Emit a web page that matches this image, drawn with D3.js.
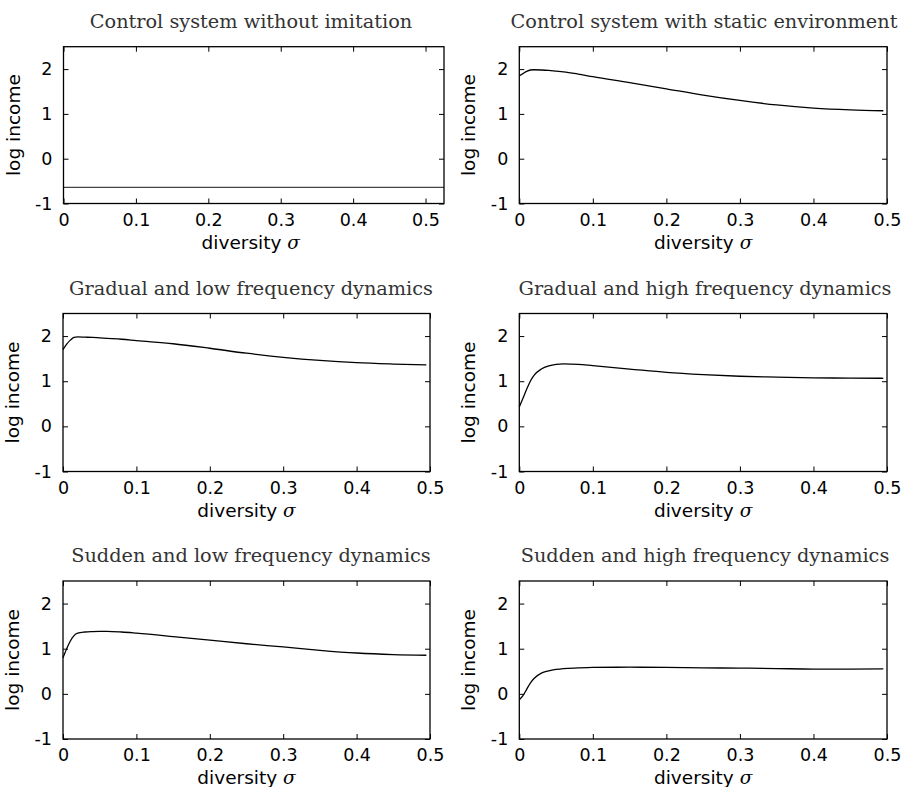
<!DOCTYPE html>
<html><head><meta charset="utf-8">
<script src="https://cdn.jsdelivr.net/npm/d3@7"></script>
<style>
html,body{margin:0;padding:0;background:#fff;}
svg{display:block;}
.tick text{font-family:"DejaVu Sans",sans-serif;}
</style></head>
<body>
<svg id="chart" width="902" height="787"></svg>
<script>
// ---- data ----
const titles = [
  "Control system without imitation",
  "Control system with static environment",
  "Gradual and low frequency dynamics",
  "Gradual and high frequency dynamics",
  "Sudden and low frequency dynamics",
  "Sudden and high frequency dynamics"
];
const xTicks = [0, 0.1, 0.2, 0.3, 0.4, 0.5];
const yTicks = [-1, 0, 1, 2];
const xLabel = "diversity ";
const yLabel = "log income";

const sigmaControl = [0, 0.5255];
const incomeControl = [-0.64, -0.64];

const sigma = [0, 0.005, 0.01, 0.015, 0.02, 0.03, 0.04, 0.05, 0.06, 0.08, 0.1, 0.15, 0.2, 0.25, 0.3, 0.35, 0.4, 0.45, 0.495];
const incomeStatic      = [1.85, 1.90, 1.95, 1.98, 1.985, 1.98, 1.97, 1.955, 1.94, 1.89, 1.83, 1.70, 1.56, 1.42, 1.30, 1.20, 1.13, 1.09, 1.07];
const incomeGradualLow  = [1.70, 1.82, 1.91, 1.97, 1.98, 1.975, 1.97, 1.96, 1.95, 1.93, 1.90, 1.83, 1.73, 1.62, 1.53, 1.46, 1.41, 1.38, 1.36];
const incomeGradualHigh = [0.43, 0.62, 0.82, 1.00, 1.13, 1.27, 1.34, 1.375, 1.385, 1.375, 1.345, 1.27, 1.195, 1.145, 1.11, 1.09, 1.075, 1.07, 1.065];
const incomeSuddenLow   = [0.80, 1.00, 1.17, 1.29, 1.345, 1.37, 1.38, 1.385, 1.385, 1.37, 1.345, 1.27, 1.19, 1.11, 1.04, 0.965, 0.905, 0.87, 0.855];
const incomeSuddenHigh  = [-0.13, -0.04, 0.10, 0.24, 0.34, 0.46, 0.51, 0.54, 0.56, 0.575, 0.585, 0.59, 0.585, 0.575, 0.57, 0.56, 0.55, 0.55, 0.555];

// ---- layout ----
const panels = [
  {title: titles[0], xs: sigmaControl, ys: incomeControl, xMax: 0.5255, left: 63.5, right: 444, top: 46.7, bottom: 203.5, stroke: "#444", sw: 1.1},
  {title: titles[1], xs: sigma, ys: incomeStatic,      xMax: 0.5, left: 519.3, right: 887, top: 46.7, bottom: 203.5, stroke: "#000", sw: 1.3},
  {title: titles[2], xs: sigma, ys: incomeGradualLow,  xMax: 0.5, left: 63, right: 430, top: 313.5, bottom: 471.5, stroke: "#000", sw: 1.3},
  {title: titles[3], xs: sigma, ys: incomeGradualHigh, xMax: 0.5, left: 519.3, right: 887, top: 313.5, bottom: 471.5, stroke: "#000", sw: 1.3},
  {title: titles[4], xs: sigma, ys: incomeSuddenLow,   xMax: 0.5, left: 63, right: 430, top: 581, bottom: 739, stroke: "#000", sw: 1.3},
  {title: titles[5], xs: sigma, ys: incomeSuddenHigh,  xMax: 0.5, left: 519.3, right: 887, top: 581, bottom: 739, stroke: "#000", sw: 1.3}
];
const titleX = [251, 704, 251, 705, 251, 705];

const svg = d3.select("#chart");

panels.forEach((p, i) => {
  const x = d3.scaleLinear().domain([0, p.xMax]).range([p.left, p.right]);
  const y = d3.scaleLinear().domain([-1, 2.5]).range([p.bottom, p.top]);
  const g = svg.append("g");
  const w = p.right - p.left, h = p.bottom - p.top;

  // data line
  const line = d3.line().x((d) => x(d[0])).y((d) => y(d[1])).curve(d3.curveMonotoneX);
  g.append("path")
    .datum(p.xs.map((v, k) => [v, p.ys[k]]))
    .attr("fill", "none").attr("stroke", p.stroke).attr("stroke-width", p.sw)
    .attr("d", line);

  // axes (inward ticks, box)
  const tickStyle = (sel) => {
    sel.selectAll(".domain").remove();
    sel.selectAll(".tick line").attr("stroke", "#000").attr("stroke-width", 1);
  };
  const bottomAx = g.append("g").attr("transform", `translate(0,${p.bottom})`)
    .call(d3.axisBottom(x).tickValues(xTicks).tickSizeInner(-5).tickSizeOuter(0).tickPadding(10).tickFormat(d3.format("")));
  tickStyle(bottomAx);
  bottomAx.selectAll("text").attr("font-size", 17.5).attr("fill", "#000");
  const topAx = g.append("g").attr("transform", `translate(0,${p.top})`)
    .call(d3.axisTop(x).tickValues(xTicks).tickSizeInner(-5).tickSizeOuter(0).tickFormat(""));
  tickStyle(topAx);
  const leftAx = g.append("g").attr("transform", `translate(${p.left},0)`)
    .call(d3.axisLeft(y).tickValues(yTicks).tickSizeInner(-5).tickSizeOuter(0).tickPadding(11).tickFormat(d3.format("")));
  tickStyle(leftAx);
  leftAx.selectAll("text").attr("font-size", 17.5).attr("fill", "#000").text((d) => d < 0 ? "-" + Math.abs(d) : d);
  const rightAx = g.append("g").attr("transform", `translate(${p.right},0)`)
    .call(d3.axisRight(y).tickValues(yTicks).tickSizeInner(-5).tickSizeOuter(0).tickFormat(""));
  tickStyle(rightAx);

  g.append("rect").attr("x", p.left).attr("y", p.top).attr("width", w).attr("height", h)
    .attr("fill", "none").attr("stroke", "#000").attr("stroke-width", 1.3);

  // title
  g.append("text").attr("x", titleX[i]).attr("y", p.top - 19)
    .attr("text-anchor", "middle").attr("font-family", "'DejaVu Serif', serif")
    .attr("font-size", 19.3).attr("fill", "#333").text(p.title);

  // x label
  const xl = g.append("text").attr("x", (p.left + p.right) / 2 - (i === 0 ? 3 : 0)).attr("y", p.bottom + 45)
    .attr("text-anchor", "middle").attr("font-family", "'DejaVu Sans', sans-serif")
    .attr("font-size", 18.5).attr("fill", "#000");
  xl.append("tspan").text(xLabel);
  xl.append("tspan").attr("font-family", "'DejaVu Serif', serif").attr("font-style", "italic").text("σ");

  // y label
  const yc = (p.top + p.bottom) / 2;
  const lx = p.left - 44;
  g.append("text").attr("transform", `translate(${lx},${yc}) rotate(-90)`)
    .attr("text-anchor", "middle").attr("font-family", "'DejaVu Sans', sans-serif")
    .attr("font-size", 18.5).attr("fill", "#000").text(yLabel);
});
</script>
</body></html>
